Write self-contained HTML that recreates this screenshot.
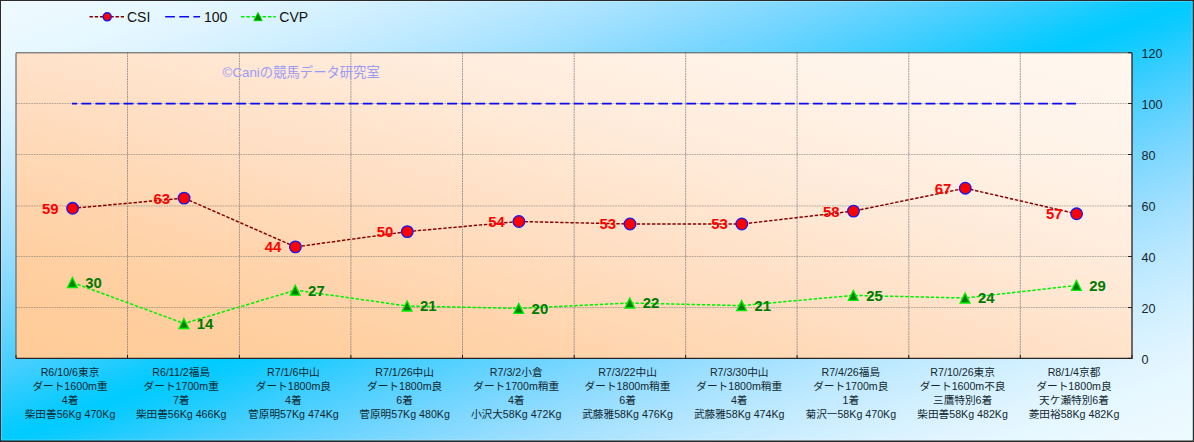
<!DOCTYPE html>
<html><head><meta charset="utf-8"><title>chart</title><style>html,body{margin:0;padding:0;background:#fff;font-family:"Liberation Sans",sans-serif}body{width:1194px;height:442px;overflow:hidden}</style></head><body>
<svg width="1194" height="442" viewBox="0 0 1194 442" style="display:block">
<defs>
<linearGradient id="bg" x1="0" y1="0" x2="1" y2="1"><stop offset="0.0000" stop-color="#edfaff"/><stop offset="0.0208" stop-color="#ecfaff"/><stop offset="0.0417" stop-color="#ebf9ff"/><stop offset="0.0625" stop-color="#e8f8ff"/><stop offset="0.0833" stop-color="#e5f7ff"/><stop offset="0.1042" stop-color="#e1f5ff"/><stop offset="0.1250" stop-color="#dcf3ff"/><stop offset="0.1458" stop-color="#d6f1ff"/><stop offset="0.1667" stop-color="#cfefff"/><stop offset="0.1875" stop-color="#c8ecff"/><stop offset="0.2083" stop-color="#c0eaff"/><stop offset="0.2292" stop-color="#b7e7ff"/><stop offset="0.2500" stop-color="#aee4ff"/><stop offset="0.2708" stop-color="#a4e1ff"/><stop offset="0.2917" stop-color="#99deff"/><stop offset="0.3125" stop-color="#8ddbff"/><stop offset="0.3333" stop-color="#81d8ff"/><stop offset="0.3542" stop-color="#74d6ff"/><stop offset="0.3750" stop-color="#66d3ff"/><stop offset="0.3958" stop-color="#57d1ff"/><stop offset="0.4167" stop-color="#47cfff"/><stop offset="0.4375" stop-color="#36cdff"/><stop offset="0.4583" stop-color="#23ccff"/><stop offset="0.4792" stop-color="#0ecbff"/><stop offset="0.5000" stop-color="#00cbff"/><stop offset="0.5208" stop-color="#0ecbff"/><stop offset="0.5417" stop-color="#23ccff"/><stop offset="0.5625" stop-color="#36cdff"/><stop offset="0.5833" stop-color="#47cfff"/><stop offset="0.6042" stop-color="#57d1ff"/><stop offset="0.6250" stop-color="#66d3ff"/><stop offset="0.6458" stop-color="#74d6ff"/><stop offset="0.6667" stop-color="#81d8ff"/><stop offset="0.6875" stop-color="#8ddbff"/><stop offset="0.7083" stop-color="#99deff"/><stop offset="0.7292" stop-color="#a4e1ff"/><stop offset="0.7500" stop-color="#aee4ff"/><stop offset="0.7708" stop-color="#b7e7ff"/><stop offset="0.7917" stop-color="#c0eaff"/><stop offset="0.8125" stop-color="#c8ecff"/><stop offset="0.8333" stop-color="#cfefff"/><stop offset="0.8542" stop-color="#d6f1ff"/><stop offset="0.8750" stop-color="#dcf3ff"/><stop offset="0.8958" stop-color="#e1f5ff"/><stop offset="0.9167" stop-color="#e5f7ff"/><stop offset="0.9375" stop-color="#e8f8ff"/><stop offset="0.9583" stop-color="#ebf9ff"/><stop offset="0.9792" stop-color="#ecfaff"/><stop offset="1.0000" stop-color="#edfaff"/></linearGradient>
<linearGradient id="pg" x1="0" y1="1" x2="1" y2="0"><stop offset="0.0000" stop-color="#ffcc99"/><stop offset="0.0312" stop-color="#ffcc99"/><stop offset="0.0625" stop-color="#ffcd9a"/><stop offset="0.0938" stop-color="#ffcd9c"/><stop offset="0.1250" stop-color="#ffce9e"/><stop offset="0.1562" stop-color="#ffcfa0"/><stop offset="0.1875" stop-color="#ffd0a3"/><stop offset="0.2188" stop-color="#ffd2a7"/><stop offset="0.2500" stop-color="#ffd3aa"/><stop offset="0.2812" stop-color="#ffd5ae"/><stop offset="0.3125" stop-color="#ffd7b2"/><stop offset="0.3438" stop-color="#ffd9b6"/><stop offset="0.3750" stop-color="#ffdaba"/><stop offset="0.4062" stop-color="#ffdcbe"/><stop offset="0.4375" stop-color="#ffdec2"/><stop offset="0.4688" stop-color="#ffe0c6"/><stop offset="0.5000" stop-color="#ffe2c9"/><stop offset="0.5312" stop-color="#ffe4cd"/><stop offset="0.5625" stop-color="#ffe6d1"/><stop offset="0.5938" stop-color="#ffe8d4"/><stop offset="0.6250" stop-color="#ffead8"/><stop offset="0.6562" stop-color="#ffebdb"/><stop offset="0.6875" stop-color="#ffedde"/><stop offset="0.7188" stop-color="#ffefe1"/><stop offset="0.7500" stop-color="#fff0e3"/><stop offset="0.7812" stop-color="#fff1e6"/><stop offset="0.8125" stop-color="#fff3e8"/><stop offset="0.8438" stop-color="#fff4ea"/><stop offset="0.8750" stop-color="#fff4eb"/><stop offset="0.9062" stop-color="#fff5ec"/><stop offset="0.9375" stop-color="#fff6ed"/><stop offset="0.9688" stop-color="#fff6ee"/><stop offset="1.0000" stop-color="#fff6ee"/></linearGradient>
</defs>
<rect x="0" y="0" width="1194" height="442" fill="url(#bg)"/>
<rect x="1.5" y="1.5" width="1190.5" height="438.5" fill="none" stroke="#fff" stroke-opacity="0.22" stroke-width="1"/>
<path d="M0 0.5H1194 M0.5 0V442" stroke="#2a2a2a" stroke-width="1" fill="none"/>
<path d="M0 441.25H1194" stroke="#2a2a2a" stroke-width="1.5" fill="none"/>
<path d="M1193.40 0V442" stroke="#2a2a2a" stroke-width="1.2" fill="none"/>
<rect x="16.0" y="52.8" width="1116.0" height="305.6" fill="url(#pg)"/>
<path d="M16.0 307.55H1132.0 M16.0 256.50H1132.0 M16.0 205.95H1132.0 M16.0 154.50H1132.0 M16.0 103.50H1132.0" stroke="#6a6a6a" stroke-width="1" stroke-dasharray="1.7 0.85" fill="none" opacity="0.5"/>
<path d="M127.50 52.8V358.4 M239.40 52.8V358.4 M350.90 52.8V358.4 M462.50 52.8V358.4 M574.20 52.8V358.4 M685.65 52.8V358.4 M797.10 52.8V358.4 M908.80 52.8V358.4 M1020.30 52.8V358.4" stroke="#6a6a6a" stroke-width="1" stroke-dasharray="1.7 0.85" fill="none" opacity="0.68"/>
<path d="M16.0 358.4V52.8H1132.0" stroke="#555" stroke-width="1" fill="none"/>
<path d="M16.0 358.4H1132.0V52.8" stroke="#2c2420" stroke-width="1.3" fill="none"/>
<path d="M1132.0 358.40h-4 M1132.0 307.55h-4 M1132.0 256.50h-4 M1132.0 205.95h-4 M1132.0 154.50h-4 M1132.0 103.50h-4 M1132.0 52.70h-4 M16.00 358.4v-3.4 M127.50 358.4v-3.4 M239.40 358.4v-3.4 M350.90 358.4v-3.4 M462.50 358.4v-3.4 M574.20 358.4v-3.4 M685.65 358.4v-3.4 M797.10 358.4v-3.4 M908.80 358.4v-3.4 M1020.30 358.4v-3.4 M1132.00 358.4v-3.4" stroke="#222" stroke-width="1" fill="none"/>
<g fill="#16262e" font-family="&quot;Liberation Sans&quot;, sans-serif" font-size="12.6"><text x="1141.6" y="363.8">0</text><text x="1141.6" y="312.95">20</text><text x="1141.6" y="261.9">40</text><text x="1141.6" y="211.35">60</text><text x="1141.6" y="159.9">80</text><text x="1141.6" y="108.9">100</text><text x="1141.6" y="58.1">120</text></g>
<text x="222.6" y="77" font-size="13.33" fill="#9b9bf5" font-family="&quot;Liberation Sans&quot;, &quot;Noto Sans CJK JP&quot;, sans-serif">©Caniの競馬データ研究室</text>
<path d="M71.9 103.7H1077.2" stroke="#0c0cf0" stroke-width="1.8" stroke-dasharray="9.8 4.27" stroke-dashoffset="4.6" fill="none"/>
<polyline points="72.6,208.3 184.1,198.1 295.4,246.9 407.3,231.6 518.9,221.5 630.0,224.0 741.8,224.0 853.5,211.1 965.3,188.2 1076.6,213.8" stroke="#850000" stroke-width="1.45" stroke-dasharray="3.4 1.7" fill="none"/>
<polyline points="72.6,282.5 184.1,323.5 295.4,290.2 407.3,306.0 518.9,308.4 630.0,303.0 741.8,305.6 853.5,295.4 965.3,298.0 1076.6,285.4" stroke="#00f000" stroke-width="1.5" stroke-dasharray="3.4 1.7" fill="none"/>
<circle cx="72.6" cy="208.3" r="5.8" fill="#ff0000" stroke="#1818f0" stroke-width="1.3"/>
<circle cx="184.1" cy="198.1" r="5.8" fill="#ff0000" stroke="#1818f0" stroke-width="1.3"/>
<circle cx="295.4" cy="246.9" r="5.8" fill="#ff0000" stroke="#1818f0" stroke-width="1.3"/>
<circle cx="407.3" cy="231.6" r="5.8" fill="#ff0000" stroke="#1818f0" stroke-width="1.3"/>
<circle cx="518.9" cy="221.5" r="5.8" fill="#ff0000" stroke="#1818f0" stroke-width="1.3"/>
<circle cx="630.0" cy="224.0" r="5.8" fill="#ff0000" stroke="#1818f0" stroke-width="1.3"/>
<circle cx="741.8" cy="224.0" r="5.8" fill="#ff0000" stroke="#1818f0" stroke-width="1.3"/>
<circle cx="853.5" cy="211.1" r="5.8" fill="#ff0000" stroke="#1818f0" stroke-width="1.3"/>
<circle cx="965.3" cy="188.2" r="5.8" fill="#ff0000" stroke="#1818f0" stroke-width="1.3"/>
<circle cx="1076.6" cy="213.8" r="5.8" fill="#ff0000" stroke="#1818f0" stroke-width="1.3"/>
<path d="M72.4 277.5l4.9 10h-9.8z" fill="#008000" stroke="#00ee00" stroke-width="1.3" stroke-linejoin="miter"/>
<path d="M183.9 318.5l4.9 10h-9.8z" fill="#008000" stroke="#00ee00" stroke-width="1.3" stroke-linejoin="miter"/>
<path d="M295.2 285.2l4.9 10h-9.8z" fill="#008000" stroke="#00ee00" stroke-width="1.3" stroke-linejoin="miter"/>
<path d="M407.1 301.0l4.9 10h-9.8z" fill="#008000" stroke="#00ee00" stroke-width="1.3" stroke-linejoin="miter"/>
<path d="M518.7 303.4l4.9 10h-9.8z" fill="#008000" stroke="#00ee00" stroke-width="1.3" stroke-linejoin="miter"/>
<path d="M629.8 298.0l4.9 10h-9.8z" fill="#008000" stroke="#00ee00" stroke-width="1.3" stroke-linejoin="miter"/>
<path d="M741.6 300.6l4.9 10h-9.8z" fill="#008000" stroke="#00ee00" stroke-width="1.3" stroke-linejoin="miter"/>
<path d="M853.3 290.4l4.9 10h-9.8z" fill="#008000" stroke="#00ee00" stroke-width="1.3" stroke-linejoin="miter"/>
<path d="M965.1 293.0l4.9 10h-9.8z" fill="#008000" stroke="#00ee00" stroke-width="1.3" stroke-linejoin="miter"/>
<path d="M1076.4 280.4l4.9 10h-9.8z" fill="#008000" stroke="#00ee00" stroke-width="1.3" stroke-linejoin="miter"/>
<g fill="#ff0000" font-family="&quot;Liberation Sans&quot;, sans-serif" font-size="14.9" font-weight="bold" text-anchor="end"><text x="58.6" y="213.7">59</text><text x="170.1" y="203.5">63</text><text x="281.4" y="252.3">44</text><text x="393.3" y="237.0">50</text><text x="504.9" y="226.9">54</text><text x="616.0" y="229.4">53</text><text x="727.8" y="229.4">53</text><text x="839.5" y="216.5">58</text><text x="951.3" y="193.6">67</text><text x="1062.6" y="219.2">57</text></g>
<g fill="#007a00" font-family="&quot;Liberation Sans&quot;, sans-serif" font-size="14.9" font-weight="bold"><text x="85.3" y="287.9">30</text><text x="196.8" y="328.9">14</text><text x="308.1" y="295.6">27</text><text x="420.0" y="311.4">21</text><text x="531.6" y="313.8">20</text><text x="642.7" y="308.4">22</text><text x="754.5" y="311.0">21</text><text x="866.2" y="300.8">25</text><text x="978.0" y="303.4">24</text><text x="1089.3" y="290.8">29</text></g>
<path d="M89.5 16.8H124" stroke="#800000" stroke-width="1.6" stroke-dasharray="3.4 1.8" fill="none"/>
<circle cx="107.2" cy="16.8" r="4.0" fill="#ff0000" stroke="#1818f0" stroke-width="1.5"/>
<text x="127" y="21.8" font-size="14" fill="#111" font-family="&quot;Liberation Sans&quot;, sans-serif">CSI</text>
<path d="M165.2 16.8H200" stroke="#0c0cf0" stroke-width="1.6" stroke-dasharray="9.7 4.4" fill="none"/>
<text x="204" y="21.8" font-size="14" fill="#111" font-family="&quot;Liberation Sans&quot;, sans-serif">100</text>
<path d="M241.0 16.8H275.8" stroke="#00f000" stroke-width="1.6" stroke-dasharray="3.5 1.9" fill="none"/>
<path d="M258 12.4l4.2 8.3h-8.4z" fill="#008000" stroke="#00e000" stroke-width="1"/>
<text x="279.3" y="21.8" font-size="14" fill="#111" font-family="&quot;Liberation Sans&quot;, sans-serif">CVP</text>
<g fill="#12282f" font-family="&quot;Liberation Sans&quot;, &quot;Noto Sans CJK JP&quot;, sans-serif" font-size="10.67" text-anchor="middle"><text x="70.0" y="376.0">R6/10/6東京</text><text x="70.0" y="389.9">ダート1600m重</text><text x="70.0" y="403.9">4着</text><text x="70.0" y="417.8">柴田善56Kg 470Kg</text><text x="181.2" y="376.0">R6/11/2福島</text><text x="181.2" y="389.9">ダート1700m重</text><text x="181.2" y="403.9">7着</text><text x="181.2" y="417.8">柴田善56Kg 466Kg</text><text x="293.4" y="376.0">R7/1/6中山</text><text x="293.4" y="389.9">ダート1800m良</text><text x="293.4" y="403.9">4着</text><text x="293.4" y="417.8">菅原明57Kg 474Kg</text><text x="404.6" y="376.0">R7/1/26中山</text><text x="404.6" y="389.9">ダート1800m良</text><text x="404.6" y="403.9">6着</text><text x="404.6" y="417.8">菅原明57Kg 480Kg</text><text x="516.2" y="376.0">R7/3/2小倉</text><text x="516.2" y="389.9">ダート1700m稍重</text><text x="516.2" y="403.9">4着</text><text x="516.2" y="417.8">小沢大58Kg 472Kg</text><text x="627.5" y="376.0">R7/3/22中山</text><text x="627.5" y="389.9">ダート1800m稍重</text><text x="627.5" y="403.9">6着</text><text x="627.5" y="417.8">武藤雅58Kg 476Kg</text><text x="739.2" y="376.0">R7/3/30中山</text><text x="739.2" y="389.9">ダート1800m稍重</text><text x="739.2" y="403.9">4着</text><text x="739.2" y="417.8">武藤雅58Kg 474Kg</text><text x="850.8" y="376.0">R7/4/26福島</text><text x="850.8" y="389.9">ダート1700m良</text><text x="850.8" y="403.9">1着</text><text x="850.8" y="417.8">菊沢一58Kg 470Kg</text><text x="962.6" y="376.0">R7/10/26東京</text><text x="962.6" y="389.9">ダート1600m不良</text><text x="962.6" y="403.9">三鷹特別6着</text><text x="962.6" y="417.8">柴田善58Kg 482Kg</text><text x="1074.0" y="376.0">R8/1/4京都</text><text x="1074.0" y="389.9">ダート1800m良</text><text x="1074.0" y="403.9">天ケ瀬特別6着</text><text x="1074.0" y="417.8">菱田裕58Kg 482Kg</text></g>
</svg>
</body></html>
